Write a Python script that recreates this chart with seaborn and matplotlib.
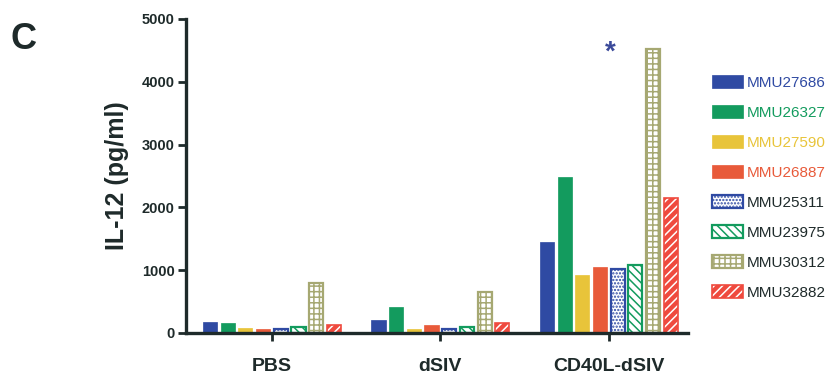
import pandas as pd
import seaborn as sns
import matplotlib.pyplot as plt
from matplotlib.patches import Rectangle

groups = ["PBS", "dSIV", "CD40L-dSIV"]
mice = ["MMU27686", "MMU26327", "MMU27590", "MMU26887",
        "MMU25311", "MMU23975", "MMU30312", "MMU32882"]
pbs = [175, 160, 80, 65, 55, 90, 795, 120]
dsiv = [210, 410, 65, 130, 65, 95, 645, 150]
cd40l = [1445, 2485, 920, 1045, 1010, 1075, 4525, 2145]

colors = ["#2f4aa3", "#139b5e", "#e8c43a", "#e85a3a",
          "#2f4aa3", "#139b5e", "#a6a872", "#ef4a3e"]
label_colors = ["#2f4aa3", "#139b5e", "#e8c43a", "#e85a3a",
                "#1e2a2a", "#1e2a2a", "#1e2a2a", "#1e2a2a"]

df = pd.DataFrame({
    "group": [g for g in groups for _ in mice],
    "mouse": mice * len(groups),
    "value": pbs + dsiv + cd40l,
})

sns.set_style("ticks")
plt.rcParams["font.family"] = ["Liberation Sans", "DejaVu Sans"]
plt.rcParams["hatch.linewidth"] = 1.1

fig = plt.figure(figsize=(8.34, 3.8), dpi=100)
ax = fig.add_axes([0.223, 0.124, 0.602, 0.826])

sns.barplot(data=df, x="group", y="value", hue="mouse", hue_order=mice,
            palette=colors, saturation=1, width=0.84, gap=0.2,
            errorbar=None, legend=False, ax=ax)

handles = []
for i, cont in enumerate(ax.containers):
    c = colors[i]
    for p in cont.patches:
        if i < 4:
            p.set_facecolor(c)
            p.set_edgecolor(c)
            p.set_linewidth(0.5)
        elif i == 4:
            p.set_facecolor("white"); p.set_edgecolor(c)
            p.set_hatch("....."); p.set_linewidth(1.6)
        elif i == 5:
            p.set_facecolor("white"); p.set_edgecolor(c)
            p.set_hatch("\\\\\\\\"); p.set_linewidth(1.6)
        elif i == 6:
            p.set_facecolor("white"); p.set_edgecolor(c)
            p.set_hatch("+++"); p.set_linewidth(1.6)
        else:
            p.set_facecolor(c); p.set_edgecolor("white")
            p.set_hatch("////"); p.set_linewidth(0)
            ax.add_patch(Rectangle(p.get_xy(), p.get_width(), p.get_height(),
                                   fill=False, edgecolor=c, linewidth=1.2))
    h = cont.patches[0]
    if i == 7:
        outline = Rectangle((0, 0), 1, 1, fill=False, edgecolor=c, linewidth=1.2)
        handles.append((h, outline))
    else:
        handles.append(h)

ax.text(2.01, 4470, "*", color="#3b4a9a", fontsize=20, fontweight="bold",
        ha="center", va="center")

ax.set_ylim(0, 5000)
ax.set_xlim(-0.51, 2.47)
ax.set_yticks([0, 1000, 2000, 3000, 4000, 5000])
ax.set_xlabel("")
ax.set_ylabel("IL-12 (pg/ml)", fontsize=18, fontweight="bold", labelpad=9,
              color="#1e2a2a")
for s in ["top", "right"]:
    ax.spines[s].set_visible(False)
for s in ["left", "bottom"]:
    ax.spines[s].set_linewidth(2.4)
    ax.spines[s].set_color("#1e2a2a")
ax.tick_params(axis="y", length=6, width=2, color="#1e2a2a", labelsize=10.5,
               labelcolor="#1e2a2a", pad=2)
ax.tick_params(axis="x", length=6, width=2, color="#1e2a2a", labelsize=14,
               labelcolor="#1e2a2a", pad=12)
for t in ax.get_yticklabels() + ax.get_xticklabels():
    t.set_fontweight("bold")

leg = fig.legend(handles, mice, loc="upper left", bbox_to_anchor=(0.854, 0.802),
                 frameon=False, fontsize=11,
                 handlelength=2.0, handleheight=0.95, handletextpad=0.25,
                 labelspacing=0.99, borderaxespad=0, borderpad=0)
for t, c in zip(leg.get_texts(), label_colors):
    t.set_color(c)

fig.text(0.012, 0.87, "C", fontsize=26, fontweight="bold", color="#1e2a2a")

fig.savefig("out.png", dpi=100)
